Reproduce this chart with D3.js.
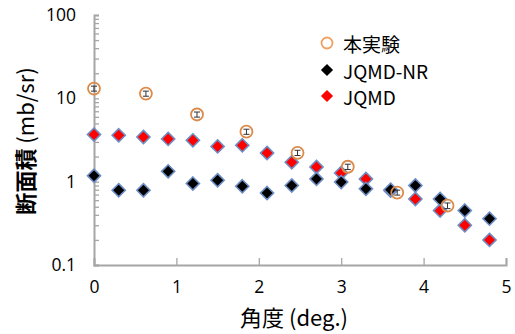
<!DOCTYPE html>
<html lang="ja">
<head>
<meta charset="UTF-8">
<title>断面積</title>
<script src="https://d3js.org/d3.v7.min.js"></script>
<style>
  body { margin: 0; background: #fff; }
  svg { font-family: "Noto Sans CJK JP", "Noto Sans", sans-serif; }
</style>
</head>
<body>
<div id="chart"></div>
<script>
// experiment (本実験)
const expAngle = [0, 0.63, 1.25, 1.85, 2.47, 3.08, 3.68, 4.29];
const expValue = [13.1, 11.4, 6.4, 3.98, 2.22, 1.51, 0.74, 0.515];
const expErr   = [0.9, 0.8, 0.45, 0.28, 0.16, 0.11, 0.05, 0.04];

// model angles (JQMD-NR, JQMD)
const simAngle = [0, 0.3, 0.6, 0.9, 1.2, 1.5, 1.8, 2.1, 2.4, 2.7, 3.0, 3.3, 3.6, 3.9, 4.2, 4.5, 4.8];
const nrValue   = [1.18, 0.79, 0.79, 1.33, 0.95, 1.04, 0.88, 0.73, 0.90, 1.08, 0.99, 0.82, 0.80, 0.90, 0.62, 0.45, 0.36];
const qmdValue  = [3.67, 3.60, 3.44, 3.26, 3.13, 2.65, 2.73, 2.21, 1.71, 1.50, 1.27, 1.08, 0.78, 0.62, 0.45, 0.30, 0.20];

const xTicks = [0, 1, 2, 3, 4, 5];
const yMajor = [0.1, 1, 10, 100];
const yTickLabels = ["0.1", "1", "10", "100"];

const width = 515, height = 334;

const svg = d3.select("#chart").append("svg")
    .attr("width", width)
    .attr("height", height);

const x = d3.scaleLinear().domain([0, 5]).range([94, 506]);
const y = d3.scaleLog().domain([0.1, 100]).range([265, 15]);

// minor ticks 2..9 in each decade
const yMinor = [];
[0.1, 1, 10].forEach(d => { for (let k = 2; k <= 9; k++) yMinor.push(d * k); });

const axisColor = "#a6a6a6";

const yAxis = svg.append("g")
    .attr("transform", `translate(${x(0)},0)`)
    .call(d3.axisLeft(y)
        .tickValues(yMajor.concat(yMinor))
        .tickSize(-5)
        .tickPadding(18)
        .tickFormat(d => {
            const i = yMajor.indexOf(d);
            return i >= 0 ? yTickLabels[i] : "";
        }));

const xAxis = svg.append("g")
    .attr("transform", `translate(0,${y(0.1)})`)
    .call(d3.axisBottom(x)
        .tickValues(xTicks)
        .tickSize(-7)
        .tickPadding(19)
        .tickFormat(d3.format("d")));

[yAxis, xAxis].forEach(a => {
    a.select(".domain").attr("stroke", axisColor).attr("stroke-width", 2);
    a.selectAll(".tick line").attr("stroke", axisColor).attr("stroke-width", 1.3);
    a.selectAll(".tick text")
        .attr("fill", "#000")
        .attr("font-size", 17.5)
        .attr("font-family", "'Open Sans', 'Noto Sans', sans-serif");
});
xAxis.selectAll(".tick text").attr("dy", "0.5em");

// diamonds
const diamond = d3.symbol().type(d3.symbolDiamond2).size(110);
const diamondLegend = d3.symbol().type(d3.symbolDiamond2).size(95);

function drawDiamonds(values, fill) {
    svg.append("g")
        .selectAll("path")
        .data(values)
        .enter().append("path")
        .attr("d", diamond)
        .attr("transform", (d, i) => `translate(${x(simAngle[i])},${y(d)})`)
        .attr("fill", fill)
        .attr("stroke", "#6d8ec4")
        .attr("stroke-width", 1.6);
}

drawDiamonds(qmdValue, "#ff0000");
drawDiamonds(nrValue, "#000000");

// experiment points with error bars
const expG = svg.append("g");
const pts = expG.selectAll("g")
    .data(expValue)
    .enter().append("g");

pts.append("line")
    .attr("x1", (d, i) => x(expAngle[i]))
    .attr("x2", (d, i) => x(expAngle[i]))
    .attr("y1", (d, i) => y(d - expErr[i]))
    .attr("y2", (d, i) => y(d + expErr[i]))
    .attr("stroke", "#333")
    .attr("stroke-width", 1);

[-1, 1].forEach(s => {
    pts.append("line")
        .attr("x1", (d, i) => x(expAngle[i]) - 3)
        .attr("x2", (d, i) => x(expAngle[i]) + 3)
        .attr("y1", (d, i) => y(d + s * expErr[i]))
        .attr("y2", (d, i) => y(d + s * expErr[i]))
        .attr("stroke", "#333")
        .attr("stroke-width", 1);
});

pts.append("circle")
    .attr("cx", (d, i) => x(expAngle[i]))
    .attr("cy", d => y(d))
    .attr("r", 6)
    .attr("fill", "none")
    .attr("stroke", "#dd8a48")
    .attr("stroke-width", 1.8);

// axis titles
const yTitle = svg.append("text")
    .attr("transform", "translate(24,141) rotate(-90)")
    .attr("text-anchor", "middle")
    .attr("dominant-baseline", "central")
    .attr("font-size", 22);
yTitle.append("tspan").attr("font-weight", "bold").text("断面積");
yTitle.append("tspan").text(" (mb/sr)");

svg.append("text")
    .attr("x", 294)
    .attr("y", 316)
    .attr("text-anchor", "middle")
    .attr("dominant-baseline", "central")
    .attr("font-size", 22)
    .text("角度 (deg.)");

// legend
const legend = svg.append("g");
const legendItems = ["本実験", "JQMD-NR", "JQMD"];
const legendY = [43, 70, 96];

legend.append("circle")
    .attr("cx", 327).attr("cy", legendY[0]).attr("r", 5.5)
    .attr("fill", "none").attr("stroke", "#f0a060").attr("stroke-width", 1.8);
legend.append("path")
    .attr("d", diamondLegend)
    .attr("transform", `translate(327,${legendY[1]})`)
    .attr("fill", "#000");
legend.append("path")
    .attr("d", diamondLegend)
    .attr("transform", `translate(327,${legendY[2]})`)
    .attr("fill", "#ff0000");

legend.selectAll("text")
    .data(legendItems)
    .enter().append("text")
    .attr("x", 343)
    .attr("y", (d, i) => legendY[i])
    .attr("dominant-baseline", "central")
    .attr("font-size", 19)
    .text(d => d);
</script>
</body>
</html>
